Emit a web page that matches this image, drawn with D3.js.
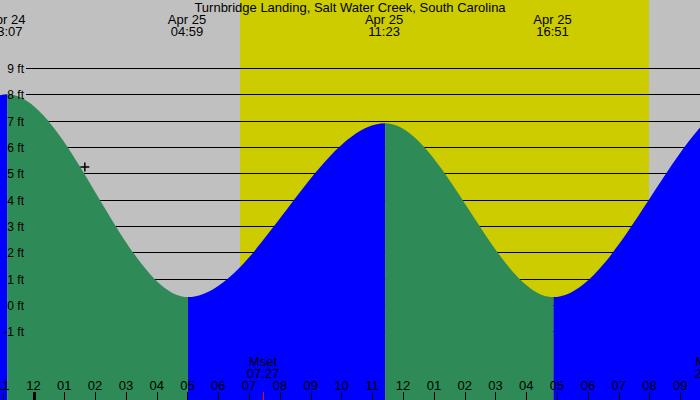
<!DOCTYPE html>
<html><head><meta charset="utf-8">
<script src="https://cdn.jsdelivr.net/npm/d3@7"></script>
<style>
html,body{margin:0;padding:0;background:#c0c0c0;}
svg{display:block;}
text{font-family:"Liberation Sans",Arial,Helvetica,sans-serif;fill:#000;}
</style>
</head><body>
<svg id="c" width="700" height="400"></svg>
<script>
const title = "Turnbridge Landing, Salt Water Creek, South Carolina";
const tideTimes = ["2024-04-24 10:45","2024-04-24 17:00","2024-04-24 23:07","2024-04-25 04:59","2024-04-25 11:23","2024-04-25 16:51","2024-04-25 23:10","2024-04-26 05:30"];
const tideHeights = [7.2, 0.4, 8.0, 0.3, 6.9, 0.3, 7.9, 0.4];
const labelTimes = ["2024-04-24 23:07","2024-04-25 04:59","2024-04-25 11:23","2024-04-25 16:51"];
const sunTimes = ["2024-04-25 06:42","2024-04-25 19:59"];
const moonNames = ["Mset","Mrise"];
const moonTimes = ["2024-04-25 07:27","2024-04-25 22:00"];
const hourStart = "2024-04-24 23:00", hourEnd = "2024-04-25 21:30";
const yTicks = [-1,0,1,2,3,4,5,6,7,8,9];
const markerTime = "2024-04-25 01:40", markerHeight = 5.24;

const W = 700, H = 400;
const parse = d3.timeParse("%Y-%m-%d %H:%M");
const svg = d3.select("#c");

const x = d3.scaleTime()
  .domain([parse("2024-04-25 00:00"), parse("2024-04-25 21:00")])
  .range([33.5, 680.3]);
const y = d3.scaleLinear().domain([0, 9]).range([305, 68]);

// background night / day
svg.append("rect").attr("x",0).attr("y",0).attr("width",W).attr("height",H).attr("fill","#c0c0c0");
const sr = x(parse(sunTimes[0])), ss = x(parse(sunTimes[1]));
svg.append("rect").attr("x",Math.round(sr)).attr("y",0).attr("width",Math.round(ss)-Math.round(sr)).attr("height",H).attr("fill","#cccc00");

// grid lines
svg.append("g").selectAll("line").data(yTicks).join("line")
  .attr("x1",26).attr("x2",W)
  .attr("y1",d=>Math.round(y(d))+0.5).attr("y2",d=>Math.round(y(d))+0.5)
  .attr("stroke","#000").attr("stroke-width",1);

// tide fills
const tide = tideTimes.map((t,i)=>({t:parse(t), h:tideHeights[i]}));
const area = d3.area().x(d=>x(d.t)).y0(H).y1(d=>y(d.h)).curve(d3.curveMonotoneX);
const defs = svg.append("defs");
const tg = svg.append("g").attr("transform","translate(1,0)");
for (let i=0;i<tide.length-1;i++){
  const a = x(tide[i].t), b = x(tide[i+1].t);
  defs.append("clipPath").attr("id","seg"+i).append("rect")
    .attr("x",a).attr("y",0).attr("width",b-a).attr("height",H);
  tg.append("path").attr("d",area(tide)).attr("clip-path","url(#seg"+i+")")
    .attr("fill", tide[i+1].h < tide[i].h ? "#2e8b57" : "#0000ff");
}

// y labels
svg.append("g").selectAll("text").data(yTicks).join("text")
  .attr("x",24).attr("y",d=>Math.round(y(d))+4.5)
  .attr("text-anchor","end").attr("font-size",12)
  .text(d=>d+" ft");

// title
svg.append("text").attr("x",350).attr("y",12).attr("text-anchor","middle")
  .attr("font-size",13).text(title);

// top high/low labels
const fmtD = d3.timeFormat("%b %d"), fmtT = d3.timeFormat("%H:%M");
const tl = svg.append("g").selectAll("g").data(labelTimes.map(parse)).join("g");
tl.append("text").attr("x",d=>x(d)).attr("y",24).attr("text-anchor","middle").attr("font-size",13).text(d=>fmtD(d));
tl.append("text").attr("x",d=>x(d)).attr("y",36).attr("text-anchor","middle").attr("font-size",13).text(d=>fmtT(d));

// moon labels
const mg = svg.append("g").selectAll("g").data(moonTimes.map((t,i)=>({t:parse(t), n:moonNames[i]}))).join("g");
mg.append("text").attr("x",d=>x(d.t)).attr("y",366).attr("text-anchor","middle").attr("font-size",13).text(d=>d.n);
mg.append("text").attr("x",d=>x(d.t)).attr("y",378).attr("text-anchor","middle").attr("font-size",13).text(d=>fmtT(d.t));
mg.append("line").attr("x1",d=>Math.round(x(d.t))+0.5).attr("x2",d=>Math.round(x(d.t))+0.5)
  .attr("y1",392).attr("y2",H).attr("stroke","#ff0000").attr("stroke-width",1);

// hour axis
const hours = d3.timeHour.range(parse(hourStart), parse(hourEnd));
const fmtH = d3.timeFormat("%I");
const ax = svg.append("g");
ax.selectAll("line").data(hours).join("line")
  .attr("x1",d=>Math.round(x(d))+0.5).attr("x2",d=>Math.round(x(d))+0.5)
  .attr("y1",392).attr("y2",H).attr("stroke","#000")
  .attr("stroke-width",d=>d.getHours()===0?3:1);
ax.selectAll("text").data(hours).join("text")
  .attr("x",d=>x(d)).attr("y",390).attr("text-anchor","middle").attr("font-size",13)
  .text(d=>fmtH(d));

// marker cross
const mx = x(parse(markerTime)), my = y(markerHeight);
svg.append("path").attr("d",`M${mx-4.5},${my}H${mx+4.5}M${mx},${my-4.5}V${my+4.5}`)
  .attr("stroke","#000").attr("stroke-width",1.5).attr("fill","none");
</script>
</body></html>
